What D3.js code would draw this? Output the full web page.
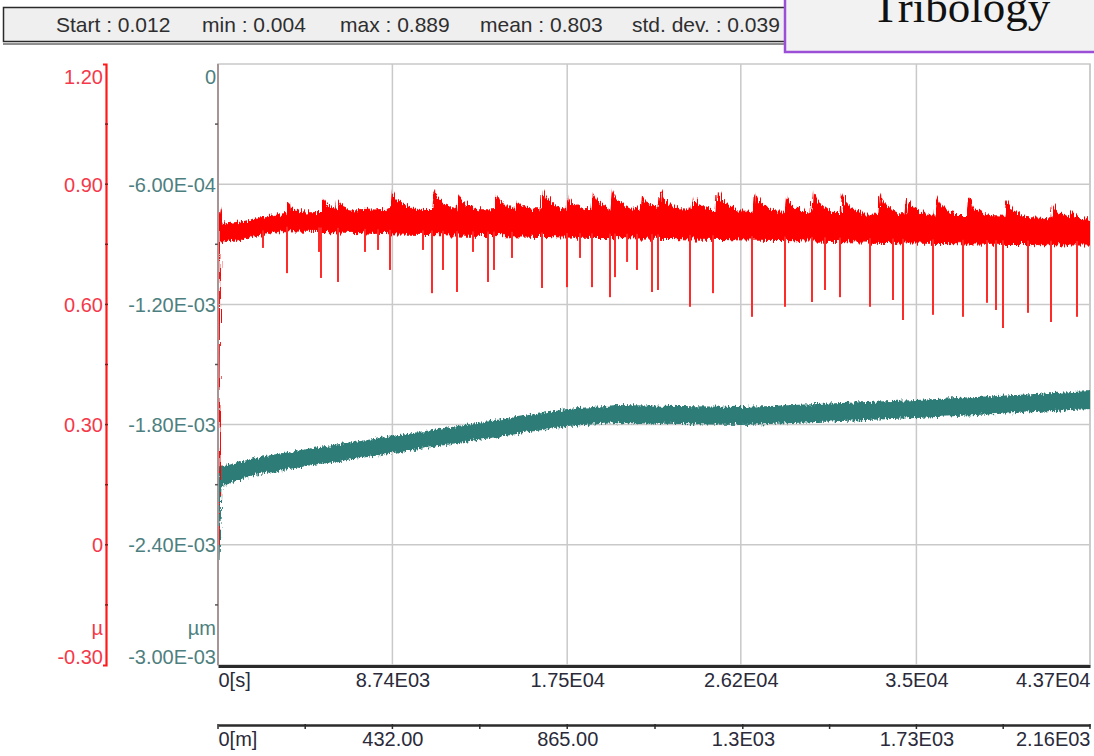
<!DOCTYPE html>
<html>
<head>
<meta charset="utf-8">
<script src="https://cdn.jsdelivr.net/npm/d3@7"></script>
<style>
  body { margin: 0; background: #fff; }
  text { font-family: Arial, "Liberation Sans", sans-serif; }
</style>
</head>
<body>
<svg id="chart" width="1094" height="756"></svg>
<script>
// header stats
const statLabels = ["Start : 0.012", "min : 0.004", "max : 0.889", "mean : 0.803", "std. dev. : 0.039"];

// axes
const timeTicks = [0, 8740, 17500, 26200, 35000, 43700];
const timeLabels = ["0[s]", "8.74E03", "1.75E04", "2.62E04", "3.5E04", "4.37E04"];
const distTicks = [0, 432, 865, 1300, 1730, 2160];
const distLabels = ["0[m]", "432.00", "865.00", "1.3E03", "1.73E03", "2.16E03"];
const muTicks = [1.2, 0.9, 0.6, 0.3, 0, -0.3];
const muLabels = ["1.20", "0.90", "0.60", "0.30", "0", "-0.30"];
const depthTicks = [0, -6e-4, -1.2e-3, -1.8e-3, -2.4e-3, -3e-3];
const depthLabels = ["0", "-6.00E-04", "-1.20E-03", "-1.80E-03", "-2.40E-03", "-3.00E-03"];

// friction coefficient band (envelope of the noisy trace)
const muT  = [0, 100, 250, 1200, 2200, 3200, 6000, 8740, 12000, 15000, 17500, 21000, 26200, 30000, 35000, 39000, 43700];
const muLo = [0.00, 0.756, 0.756, 0.763, 0.774, 0.784, 0.781, 0.776, 0.773, 0.771, 0.768, 0.766, 0.761, 0.758, 0.753, 0.750, 0.748];
const muHi = [0.85, 0.845, 0.800, 0.806, 0.816, 0.826, 0.831, 0.838, 0.836, 0.836, 0.836, 0.838, 0.833, 0.828, 0.823, 0.821, 0.808];

// sawtooth peaks
const peakT  = [3508, 5262, 6014, 8720, 10825, 12028, 13932, 14934, 16287, 17490, 18793, 19745, 21249, 22151, 23805, 25007, 26912, 28515, 29818, 31272, 33176, 34529, 36033, 37636, 39491, 41846, 42698];
const peakMu = [0.856, 0.866, 0.861, 0.889, 0.889, 0.878, 0.881, 0.861, 0.889, 0.873, 0.878, 0.886, 0.873, 0.886, 0.868, 0.889, 0.881, 0.868, 0.889, 0.878, 0.878, 0.866, 0.868, 0.868, 0.861, 0.853, 0.836];

// downward dips
const dipT  = [2255, 3458, 5062, 5162, 6014, 7367, 8020, 8620, 10273, 10724, 11276, 11977, 12780, 13531, 13832, 14734, 16238, 17490, 18143, 18743, 19645, 19896, 20500, 20998, 21750, 22050, 23654, 24807, 26761, 28415, 29768, 30420, 31172, 32675, 33828, 34329, 35832, 37336, 38538, 38989, 39340, 40593, 41746, 43049];
const dipMu = [0.741, 0.678, 0.731, 0.666, 0.656, 0.731, 0.736, 0.686, 0.736, 0.628, 0.686, 0.631, 0.731, 0.656, 0.686, 0.716, 0.641, 0.643, 0.716, 0.643, 0.618, 0.668, 0.706, 0.686, 0.631, 0.636, 0.594, 0.628, 0.569, 0.594, 0.606, 0.636, 0.618, 0.594, 0.611, 0.561, 0.574, 0.569, 0.604, 0.586, 0.541, 0.579, 0.556, 0.569];

// penetration depth band
const depT  = [0, 100, 2000, 5000, 8740, 13000, 17500, 20000, 26200, 30000, 35000, 40000, 43700];
const depLo = [-2.49e-3, -2.10e-3, -2.04e-3, -1.99e-3, -1.935e-3, -1.87e-3, -1.80e-3, -1.785e-3, -1.795e-3, -1.78e-3, -1.76e-3, -1.735e-3, -1.715e-3];
const depHi = [-2.10e-3, -2.02e-3, -1.97e-3, -1.92e-3, -1.865e-3, -1.80e-3, -1.73e-3, -1.71e-3, -1.72e-3, -1.705e-3, -1.685e-3, -1.66e-3, -1.64e-3];

const RED = "#ff0000", TEAL = "#2f7c77", GRID = "#c9c9c9";
const pL = 218, pR = 1090, pT = 64, pB = 665;

const svg = d3.select("#chart");

const x = d3.scaleLinear().domain([0, 43700]).range([pL, pR]);
const xd = d3.scaleLinear().domain([0, 2160]).range([pL, pR]);
const yMu = d3.scaleLinear().domain([-0.3, 1.2]).range([pB, pT]);
const yDep = d3.scaleLinear().domain([-3e-3, 0]).range([pB, pT]);

// piecewise lookup of the band edges
const muHiAt = d3.scaleLinear().domain(muT).range(muHi).clamp(true);
const muLoAt = d3.scaleLinear().domain(muT).range(muLo).clamp(true);

const defs = svg.append("defs");
defs.append("clipPath").attr("id", "plot")
  .append("rect").attr("x", pL).attr("y", pT)
  .attr("width", pR - pL).attr("height", pB - pT);

// rough, striated texture for the noisy traces
function roughFilter(id, freq, scale) {
  const f = defs.append("filter").attr("id", id)
    .attr("filterUnits", "userSpaceOnUse")
    .attr("x", pL - 5).attr("y", pT).attr("width", pR - pL + 10).attr("height", pB - pT);
  f.append("feTurbulence").attr("type", "fractalNoise")
    .attr("baseFrequency", freq).attr("numOctaves", 2).attr("seed", 4).attr("result", "n");
  f.append("feDisplacementMap").attr("in", "SourceGraphic").attr("in2", "n")
    .attr("scale", scale).attr("xChannelSelector", "R").attr("yChannelSelector", "G");
}
roughFilter("roughRed", "0.7 0.04", 10);
roughFilter("roughTeal", "0.6 0.2", 7);

// ---- plot frame & grid
svg.append("rect").attr("x", pL).attr("y", pT)
  .attr("width", pR - pL).attr("height", pB - pT)
  .attr("fill", "#fff").attr("stroke", GRID).attr("stroke-width", 1.5);

svg.append("g").selectAll("line").data(depthTicks.slice(1, -1)).join("line")
  .attr("x1", pL).attr("x2", pR)
  .attr("y1", d => yDep(d)).attr("y2", d => yDep(d))
  .attr("stroke", GRID).attr("stroke-width", 1.5);

svg.append("g").selectAll("line").data(timeTicks.slice(1)).join("line")
  .attr("x1", d => x(d)).attr("x2", d => x(d))
  .attr("y1", pT).attr("y2", pB)
  .attr("stroke", GRID).attr("stroke-width", 1.5);

// ---- series
const plot = svg.append("g").attr("clip-path", "url(#plot)");

const depArea = d3.area()
  .x((d, i) => x(depT[i]))
  .y0((d, i) => yDep(depLo[i]))
  .y1((d, i) => yDep(depHi[i]));

plot.append("path").datum(depT)
  .attr("d", depArea)
  .attr("fill", TEAL).attr("stroke", TEAL).attr("stroke-width", 3)
  .attr("filter", "url(#roughTeal)");

const red = plot.append("g").attr("filter", "url(#roughRed)");

const muArea = d3.area()
  .x((d, i) => x(muT[i]))
  .y0((d, i) => yMu(muLo[i]))
  .y1((d, i) => yMu(muHi[i]));

red.append("path").datum(muT)
  .attr("d", muArea)
  .attr("fill", RED).attr("stroke", RED).attr("stroke-width", 1);

// sawtooth: fast rise then decay back into the band
red.selectAll("path.peak").data(peakT).join("path")
  .attr("class", "peak")
  .attr("d", (t, i) => {
    const p = peakMu[i], h = muHiAt(t), l = muLoAt(t);
    return "M" + [
      [x(t - 80), yMu(h)],
      [x(t), yMu(p)],
      [x(t + 220), yMu(h + 0.5 * (p - h))],
      [x(t + 950), yMu(h)],
      [x(t + 950), yMu(l)],
      [x(t - 80), yMu(l)]
    ].join("L") + "Z";
  })
  .attr("fill", RED);

plot.append("g").selectAll("line").data(dipT).join("line")
  .attr("x1", d => x(d)).attr("x2", d => x(d))
  .attr("y1", d => yMu(muLoAt(d) + 0.01))
  .attr("y2", (d, i) => yMu(dipMu[i]))
  .attr("stroke", "#ff2a2a").attr("stroke-width", 2);

// ---- left axis of plot (depth)
svg.append("line").attr("x1", pL).attr("x2", pL).attr("y1", pT).attr("y2", pB)
  .attr("stroke", "#a89494").attr("stroke-width", 2);

const depAxis = svg.append("g").attr("transform", `translate(${pL - 2},0)`)
  .call(d3.axisLeft(yDep).tickValues(depthTicks).tickFormat((d, i) => depthLabels[i]).tickSize(0).tickPadding(0));
depAxis.select(".domain").remove();
depAxis.selectAll(".tick line").remove();
depAxis.selectAll(".tick text").attr("fill", "#4e7f80").attr("font-size", 20)
  .attr("dy", (d, i) => i === 0 ? "0.95em" : i === depthTicks.length - 1 ? "-0.1em" : "0.35em");

// minor ticks on the depth axis
svg.append("g").selectAll("line").data(d3.pairs(depthTicks, (a, b) => (a + b) / 2)).join("line")
  .attr("x1", pL - 3).attr("x2", pL)
  .attr("y1", d => yDep(d)).attr("y2", d => yDep(d))
  .attr("stroke", "#555").attr("stroke-width", 1.5);

// ---- friction axis
const muAxis = svg.append("g").attr("transform", "translate(106,0)")
  .call(d3.axisLeft(yMu).tickValues(muTicks).tickFormat((d, i) => muLabels[i]).tickSizeInner(0).tickSizeOuter(3).tickPadding(3));
muAxis.select(".domain").attr("stroke", "#ff1a1a").attr("stroke-width", 2.2);
muAxis.selectAll(".tick line").remove();
muAxis.selectAll(".tick text").attr("fill", "#f5394a").attr("font-size", 20)
  .attr("dy", (d, i) => i === 0 ? "0.95em" : i === muTicks.length - 1 ? "-0.1em" : "0.35em");

svg.append("g").selectAll("line").data(d3.pairs(muTicks, (a, b) => (a + b) / 2).concat(muTicks.slice(1, -1))).join("line")
  .attr("x1", 105).attr("x2", 108)
  .attr("y1", d => yMu(d)).attr("y2", d => yMu(d))
  .attr("stroke", "#8a1a1a").attr("stroke-width", 1.5);

// unit labels
svg.append("text").attr("x", 103).attr("y", yMu(-0.3) - 30).attr("text-anchor", "end")
  .attr("font-size", 20).attr("fill", "#f5394a").text("µ");
svg.append("text").attr("x", pL - 2).attr("y", yDep(-3e-3) - 30).attr("text-anchor", "end")
  .attr("font-size", 20).attr("fill", "#4e7f80").text("µm");

// ---- time axis
const tAxis = svg.append("g").attr("transform", `translate(0,${pB + 1})`)
  .call(d3.axisBottom(x).tickValues(timeTicks).tickFormat((d, i) => timeLabels[i]).tickSize(0).tickPadding(7));
tAxis.select(".domain").attr("stroke", "#2b2b2b").attr("stroke-width", 3);
tAxis.selectAll(".tick text").attr("fill", "#2a2a3a").attr("font-size", 20)
  .attr("text-anchor", (d, i) => i === 0 ? "start" : i === timeTicks.length - 1 ? "end" : "middle");

// ---- distance axis
const dAxis = svg.append("g").attr("transform", "translate(0,725)")
  .call(d3.axisBottom(xd).tickValues(distTicks).tickFormat((d, i) => distLabels[i]).tickSize(0).tickPadding(7));
dAxis.select(".domain").attr("stroke", "#2b2b2b").attr("stroke-width", 2.5);
dAxis.selectAll(".tick text").attr("fill", "#2a2a3a").attr("font-size", 20)
  .attr("text-anchor", (d, i) => i === 0 ? "start" : i === distTicks.length - 1 ? "end" : "middle");

svg.append("g").selectAll("line")
  .data(distTicks.concat(d3.pairs(distTicks, (a, b) => (a + b) / 2))).join("line")
  .attr("x1", d => xd(d)).attr("x2", d => xd(d))
  .attr("y1", 724).attr("y2", 729)
  .attr("stroke", "#2b2b2b").attr("stroke-width", 1.5);

// ---- stats header
svg.append("rect").attr("x", 3.5).attr("y", 7.5).attr("width", 1100).attr("height", 34)
  .attr("fill", "#efefef").attr("stroke", "#2a2a2a").attr("stroke-width", 1.5);
svg.append("line").attr("x1", 3).attr("x2", 1094).attr("y1", 44).attr("y2", 44)
  .attr("stroke", "#6a6a6a").attr("stroke-width", 1.5);

const statX = [56, 202, 340, 480, 632];
svg.append("g").selectAll("text").data(statLabels).join("text")
  .attr("x", (d, i) => statX[i]).attr("y", 32)
  .attr("font-size", 21).attr("fill", "#2e2e2e")
  .text(d => d);

// ---- title box
svg.append("rect").attr("x", 785).attr("y", -10).attr("width", 320).attr("height", 62)
  .attr("fill", "#f2f2f2").attr("stroke", "#9a4fd6").attr("stroke-width", 2.5);
svg.append("text").attr("x", 961).attr("y", 22).attr("text-anchor", "middle")
  .style("font-family", "'Liberation Serif', 'Times New Roman', serif")
  .attr("font-size", 45).attr("fill", "#111").text("Tribology");
</script>
</body>
</html>
